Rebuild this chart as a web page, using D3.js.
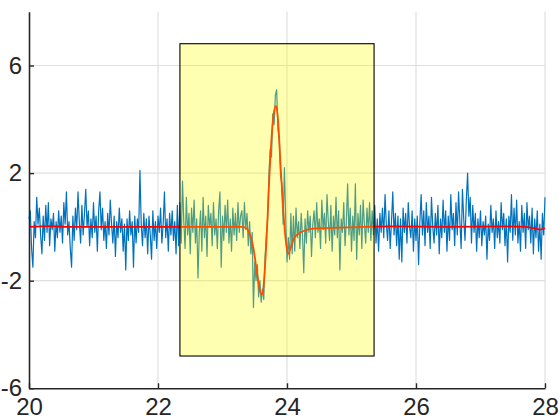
<!DOCTYPE html>
<html>
<head>
<meta charset="utf-8">
<script src="https://cdn.jsdelivr.net/npm/d3@7"></script>
<style>
  html, body { margin: 0; padding: 0; background: #ffffff; }
  svg { display: block; }
  text { font-family: "Liberation Sans", Arial, Helvetica, sans-serif; }
</style>
</head>
<body>
<svg id="chart" width="560" height="420"></svg>
<script>
// ---- data ----
const xTicks = [20, 22, 24, 26, 28];
const yTicks = [-6, -2, 2, 6];
const xTickLabels = ["20", "22", "24", "26", "28"];
const yTickLabels = ["-6", "-2", "2", "6"];

// measured signal, sampled from x = 20 in steps of 0.02
const sampleStart = 20;
const sampleStep = 0.02;
const signalValues = [
  0.3, 0.6, -0.8, -1.5, 0.2, -0.4, 1.1, 0.1, 0.7, -0.3,
  -1.0, 0.4, -0.5, 0.8, -0.2, 0.9, -0.7, 0.3, -0.1, 0.5,
  -0.9, 0.2, -0.4, 0.6, -0.2, 0.4, -0.6, 0.9, 0.1, 1.3,
  -0.3, 0.2, -0.8, -1.5, 0.4, -0.5, 0.7, -0.1, 1.3, 0.2,
  -0.6, 0.8, -0.3, 0.5, 1.4, 0.0, 0.6, -0.7, 0.3, -0.4,
  0.9, -0.2, 0.4, -0.9, 0.6, 1.3, -0.1, 0.7, -0.5, 0.2,
  -0.8, 0.5, -0.3, 1.0, 0.1, -0.6, 0.4, -1.1, 0.2, -0.4,
  0.7, -0.2, 0.3, -0.9, 0.1, -1.6, 0.3, -0.5, 0.6, -0.3,
  0.2, -1.5, 0.4, -0.6, 0.3, -0.2, 2.1, 0.1, -0.7, 0.5,
  -0.4, 0.3, -1.0, 0.4, -0.3, -1.2, 0.6, -0.5, 0.2, -0.8,
  0.4, -0.2, 0.7, -0.6, 0.1, 1.3, -0.4, 0.3, -0.9, 0.5,
  -0.3, 0.6, -0.5, 0.2, -1.0, 0.8, -0.7,
  // 22.34
  0.9, -0.6, 1.7, 0.2, -0.8, 1.1, -0.3, 0.5, -1.0, 0.7,
  -0.2, 1.0, -0.6, 0.3, -1.9, -0.2, 0.6, -0.9, 1.1, -0.4,
  0.4, -1.1, 0.8, 0.0, 0.5, -0.7, 0.9, -0.3, 0.3, -0.8,
  0.6, 1.3, -1.5, 0.4, -0.5, 0.8, -0.2, 1.0, -0.6, 0.3,
  -0.9, 0.7, -0.3, 0.5, -0.5, 0.9, -0.2, 0.4,
  // 23.30
  0.6, -0.4, 0.9, -0.1, 0.5, -0.7, 0.2, -1.0, -0.2, -3.0,
  -1.3, -2.0, -1.4, -2.6, -2.0, -2.8, -2.3, -2.7, -1.1, -0.3,
  0.3, 2.0, 2.9, 2.6, 4.2, 3.8, 4.9, 5.1, 3.6, 3.3,
  1.9, 1.6, 0.1, 2.2, 0.3, -1.3, -0.4, -1.2, 0.5, -1.0,
  0.4, -0.9, 0.7, -0.4, 0.2, -0.8, 0.5, -0.3, -1.7, 0.3,
  -0.6, 0.6, -0.2, 0.4, -1.1, 0.1,
  // 24.42
  0.6, -0.4, 0.9, -0.2, 0.3, -0.8, 1.0, -0.1, 0.5, -0.6,
  1.2, 0.2, -0.5, 0.8, -0.9, 0.4, -0.3, 1.1, -0.4, 0.6,
  -1.6, 0.3, -0.2, 0.9, -0.7, 0.2, 1.6, -0.3, 0.7, -0.9,
  0.4, -0.5, 1.6, -1.2, 0.5, -0.3, 0.8, -0.8, 1.0, 0.1,
  -0.6, 0.7, -0.2, 0.9, -0.5, 0.6, -0.3,
  // 25.36
  0.8, -0.6, 0.3, -0.9, 0.5, -0.2, 0.7, -0.4, 1.2, 0.1,
  -0.5, 0.6, -0.8, 0.2, 1.3, -0.3, 0.5, -0.7, 0.4, -1.2,
  0.3, -1.3, 0.7, -0.2, 0.5, -0.6, 0.9, 0.0, -0.4, 0.6,
  -0.9, 0.3, -0.5, 0.4, -1.4, 0.2, 1.2, -0.3, 0.6, -0.7,
  0.9, -0.2, 0.4, -0.8, 1.1, 0.0, -0.6, 0.5, -0.3, 0.8,
  -1.0, 0.3, -0.4, 1.0, -0.2, 0.6, -0.9, 0.4, -0.5, 1.2,
  -0.1, 0.5, -0.7, 0.9, -0.3, 1.3, 0.2, -0.8, 1.4, 0.3,
  -0.5, 1.0, 2.0, 0.4, 1.1, -0.6, 0.8, -0.2, 0.5, -0.9,
  0.3, -0.4, 0.6, -0.7, 0.2, -0.3, 0.4, -1.2, 0.1, -0.5,
  0.8, -0.2, 0.3, -0.8, 0.6, -0.4, 0.2, -0.6, 0.9, -0.1,
  0.5, -0.7, 0.3, -1.3, 0.4, -0.2, 1.2, -0.5, 0.7, -0.3,
  1.0, -0.6, 0.2, -0.9, 0.8, -0.2, 0.5, -0.8, 0.9, -0.1,
  0.4, -0.6, 0.7, -1.0, 0.3, -0.4, 0.6, -0.9, 0.1, -1.2,
  0.5, -0.3, 1.1
];

// fitted model curve
const fitX = [20.0, 20.3, 20.6, 21.5, 22.5, 23.0, 23.3, 23.36, 23.40, 23.44, 23.48, 23.52, 23.56, 23.60, 23.62,
  23.65, 23.68, 23.72, 23.76, 23.80, 23.83, 23.86, 23.90, 23.94, 23.98, 24.02, 24.06, 24.11,
  24.18, 24.24, 24.35, 24.5, 24.8, 25.2, 25.6, 26.5, 27.4, 27.7, 27.85, 27.92, 28.0];
const fitY = [0.0, 0.03, 0.0, 0.0, 0.0, 0.0, 0.0, -0.03, -0.15, -0.38, -0.8, -1.45, -2.1, -2.5, -2.5,
  -1.8, -0.6, 1.5, 3.3, 4.3, 4.5, 4.0, 2.3, 0.7, -0.5, -1.0, -0.75, -0.42,
  -0.25, -0.17, -0.08, -0.05, -0.03, 0.0, 0.02, 0.0, 0.02, 0.0, -0.06, -0.1, -0.05];

// highlighted window
const windowX = [22.34, 25.35];
const windowY = [-4.8, 6.81];

// ---- drawing ----
const svg = d3.select("#chart");
const plotLeft = 29, plotRight = 545, plotTop = 11.7, plotBottom = 388.3;
const x = d3.scaleLinear().domain([20, 28]).range([plotLeft, plotRight]);
const y = d3.scaleLinear().domain([-6, 8]).range([plotBottom, plotTop]);
const axisColor = "#262626";

// grid
const grid = svg.append("g");
grid.selectAll("line.gx").data(xTicks.slice(1)).enter().append("line")
  .attr("x1", d => x(d)).attr("x2", d => x(d))
  .attr("y1", plotTop).attr("y2", plotBottom)
  .attr("stroke", "#dfdfdf").attr("stroke-width", 1.2);
grid.selectAll("line.gy").data(yTicks.slice(1)).enter().append("line")
  .attr("x1", plotLeft).attr("x2", plotRight)
  .attr("y1", d => y(d)).attr("y2", d => y(d))
  .attr("stroke", "#dfdfdf").attr("stroke-width", 1.2);

// signal
const signal = signalValues.map((v, i) => [sampleStart + sampleStep * i, v]);
svg.append("path")
  .datum(signal)
  .attr("fill", "none")
  .attr("stroke", "#0072bd")
  .attr("stroke-width", 1.2)
  .attr("stroke-linejoin", "round")
  .attr("d", d3.line().x(d => x(d[0])).y(d => y(d[1])));

// fit
const fit = fitX.map((v, i) => [v, fitY[i]]);
svg.append("path")
  .datum(fit)
  .attr("fill", "none")
  .attr("stroke", "#ff0000")
  .attr("stroke-width", 1.8)
  .attr("d", d3.line().curve(d3.curveMonotoneX).x(d => x(d[0])).y(d => y(d[1])));

// transparent yellow window
svg.append("rect")
  .attr("x", x(windowX[0]))
  .attr("y", y(windowY[1]))
  .attr("width", x(windowX[1]) - x(windowX[0]))
  .attr("height", y(windowY[0]) - y(windowY[1]))
  .attr("fill", "rgb(255,255,0)")
  .attr("fill-opacity", 0.3)
  .attr("stroke", "#000000")
  .attr("stroke-width", 1.1);

// axes
const xAxis = d3.axisBottom(x).tickValues(xTicks).tickSizeInner(-5).tickSizeOuter(0)
  .tickFormat((d, i) => xTickLabels[i]).tickPadding(14);
const gx = svg.append("g").attr("transform", `translate(0,${plotBottom})`).call(xAxis);
gx.select(".domain").attr("stroke", axisColor).attr("stroke-width", 1.6);
gx.selectAll(".tick line").attr("stroke", axisColor).attr("stroke-width", 1.4);
gx.selectAll(".tick text").attr("fill", axisColor).attr("font-size", 24)
  .attr("dy", "0.71em").attr("y", 10);

const yAxis = d3.axisLeft(y).tickValues(yTicks).tickSizeInner(-5).tickSizeOuter(0)
  .tickFormat((d, i) => yTickLabels[i]).tickPadding(12);
const gy = svg.append("g").attr("transform", `translate(${plotLeft},0)`).call(yAxis);
gy.select(".domain").attr("stroke", axisColor).attr("stroke-width", 1.6);
gy.selectAll(".tick line").attr("stroke", axisColor).attr("stroke-width", 1.4);
gy.selectAll(".tick text").attr("fill", axisColor).attr("font-size", 24).attr("x", -7);
</script>
</body>
</html>
